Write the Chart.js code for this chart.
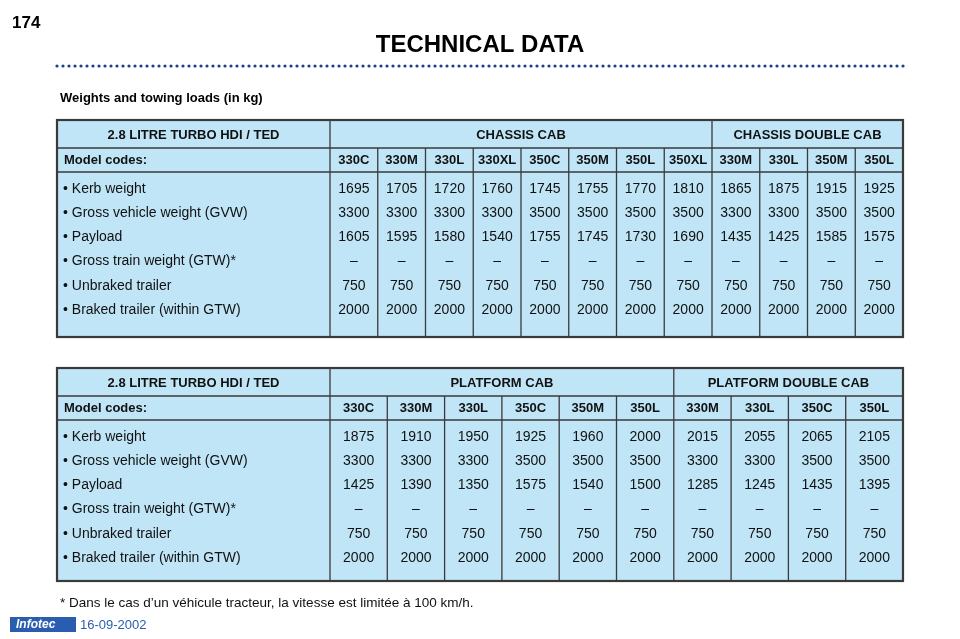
<!DOCTYPE html>
<html><head><meta charset="utf-8">
<script src="https://cdn.jsdelivr.net/npm/chart.js@4/dist/chart.umd.min.js"></script>
<style>html,body{margin:0;padding:0;background:#fff}#c{display:block}</style>
</head><body><canvas id="c" width="960" height="639"></canvas>
<script>
const rowLabels=["• Kerb weight","• Gross vehicle weight (GVW)","• Payload","• Gross train weight (GTW)*","• Unbraked trailer","• Braked trailer (within GTW)"];
const t1Groups=["CHASSIS CAB","CHASSIS DOUBLE CAB"];
const t1GroupSpan=[8,4];
const t1Codes=["330C","330M","330L","330XL","350C","350M","350L","350XL","330M","330L","350M","350L"];
const t1Kerb=[1695,1705,1720,1760,1745,1755,1770,1810,1865,1875,1915,1925];
const t1Gvw=[3300,3300,3300,3300,3500,3500,3500,3500,3300,3300,3500,3500];
const t1Payload=[1605,1595,1580,1540,1755,1745,1730,1690,1435,1425,1585,1575];
const t1Gtw=Array(12).fill("–");
const t1Unbraked=Array(12).fill(750);
const t1Braked=Array(12).fill(2000);
const t2Groups=["PLATFORM CAB","PLATFORM DOUBLE CAB"];
const t2GroupSpan=[6,4];
const t2Codes=["330C","330M","330L","350C","350M","350L","330M","330L","350C","350L"];
const t2Kerb=[1875,1910,1950,1925,1960,2000,2015,2055,2065,2105];
const t2Gvw=[3300,3300,3300,3500,3500,3500,3300,3300,3500,3500];
const t2Payload=[1425,1390,1350,1575,1540,1500,1285,1245,1435,1395];
const t2Gtw=Array(10).fill("–");
const t2Unbraked=Array(10).fill(750);
const t2Braked=Array(10).fill(2000);

const tables=[
 {groups:t1Groups,span:t1GroupSpan,codes:t1Codes,rows:[t1Kerb,t1Gvw,t1Payload,t1Gtw,t1Unbraked,t1Braked],top:120,bottom:337},
 {groups:t2Groups,span:t2GroupSpan,codes:t2Codes,rows:[t2Kerb,t2Gvw,t2Payload,t2Gtw,t2Unbraked,t2Braked],top:368,bottom:581}
];
const L=57,C1=330,R=903;
const F='"Liberation Sans",Arial,sans-serif';

const tablePlugin={id:'tbl',afterDraw(chart){
 const ctx=chart.ctx,X=v=>chart.scales.x.getPixelForValue(v),Y=v=>chart.scales.y.getPixelForValue(v);
 ctx.save();
 ctx.fillStyle='#000';ctx.font='bold 17px '+F;ctx.textBaseline='middle';ctx.textAlign='left';
 ctx.fillText('174',X(12),Y(23));
 ctx.font='bold 24px '+F;ctx.textAlign='center';ctx.fillText('TECHNICAL DATA',X(480),Y(45));
 ctx.fillStyle='#1a3f8f';
 for(let x=57;x<=905;x+=6){ctx.beginPath();ctx.arc(X(x),Y(66),1.6,0,6.3);ctx.fill();}
 ctx.fillStyle='#000';ctx.font='bold 13px '+F;ctx.textAlign='left';
 ctx.fillText('Weights and towing loads (in kg)',X(60),Y(98));
 tables.forEach(t=>{
  const n=t.codes.length,w=(R-C1)/n,colX=i=>C1+i*w;
  const h1=t.top+28,h2=h1+24;
  ctx.fillStyle='#bfe5f7';ctx.fillRect(X(L),Y(t.top),X(R)-X(L),Y(t.bottom)-Y(t.top));
  ctx.strokeStyle='#3a3a3a';ctx.lineWidth=1.3;
  const line=(a,b,c,d)=>{ctx.beginPath();ctx.moveTo(X(a),Y(b));ctx.lineTo(X(c),Y(d));ctx.stroke();};
  line(L,h1,R,h1);line(L,h2,R,h2);line(C1,t.top,C1,t.bottom);
  let acc=0;
  t.span.forEach((s,gi)=>{
   if(gi>0)line(colX(acc),t.top,colX(acc),h1);
   ctx.fillStyle='#111';ctx.font='bold 13px '+F;ctx.textAlign='center';
   ctx.fillText(t.groups[gi],X(colX(acc)+s*w/2),Y(t.top+15));
   acc+=s;
  });
  for(let i=1;i<n;i++)line(colX(i),h1,colX(i),t.bottom);
  ctx.lineWidth=2.2;ctx.strokeRect(X(L),Y(t.top),X(R)-X(L),Y(t.bottom)-Y(t.top));
  ctx.fillStyle='#111';ctx.font='bold 13px '+F;
  ctx.textAlign='center';ctx.fillText('2.8 LITRE TURBO HDI / TED',X((L+C1)/2),Y(t.top+15));
  ctx.textAlign='left';ctx.fillText('Model codes:',X(64),Y(h1+12));
  ctx.textAlign='center';
  t.codes.forEach((c,i)=>ctx.fillText(c,X(colX(i)+w/2),Y(h1+12)));
  ctx.font='14px '+F;
  t.rows.forEach((r,ri)=>{
   const y=h2+17+ri*24.2;
   ctx.textAlign='left';ctx.fillText(rowLabels[ri],X(63),Y(y));
   ctx.textAlign='center';
   r.forEach((v,i)=>ctx.fillText(String(v),X(colX(i)+w/2),Y(y)));
  });
 });
 ctx.fillStyle='#111';ctx.font='13.5px '+F;ctx.textAlign='left';
 ctx.fillText('* Dans le cas d’un véhicule tracteur, la vitesse est limitée à 100 km/h.',X(60),Y(603));
 ctx.fillStyle='#2a5db0';ctx.fillRect(X(10),Y(617),X(76)-X(10),Y(632)-Y(617));
 ctx.fillStyle='#fff';ctx.font='bold italic 12px '+F;ctx.fillText('Infotec',X(16),Y(625));
 ctx.fillStyle='#2a5db0';ctx.font='13px '+F;ctx.fillText('16-09-2002',X(80),Y(625));
 ctx.restore();
}};

new Chart(document.getElementById('c'),{type:'scatter',data:{datasets:[{data:[]}]},
 options:{responsive:false,animation:false,layout:{padding:0},
  plugins:{legend:{display:false},tooltip:{enabled:false}},
  scales:{x:{type:'linear',min:0,max:960,display:false},y:{type:'linear',min:0,max:639,reverse:true,display:false}}},
 plugins:[tablePlugin]});
</script></body></html>
